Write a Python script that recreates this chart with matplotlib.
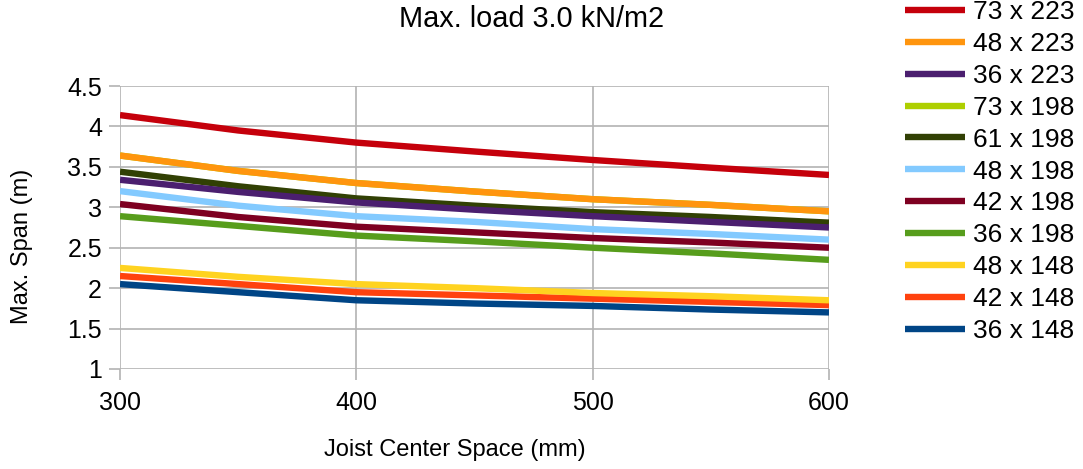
import matplotlib
matplotlib.use('Agg')
import matplotlib.pyplot as plt

plt.rcParams['font.family'] = ['Liberation Sans', 'DejaVu Sans']

# joist center spacing (mm)
spacing = [300, 350, 400, 450, 500, 550, 600]

# max span (m) per joist size
series_names = ['36 x 148', '42 x 148', '48 x 148', '36 x 198', '42 x 198', '48 x 198',
                '61 x 198', '73 x 198', '36 x 223', '48 x 223', '73 x 223']
span_36x148 = [2.05, 1.95, 1.85, 1.81, 1.78, 1.735, 1.70]
span_42x148 = [2.15, 2.05, 1.95, 1.91, 1.87, 1.83, 1.79]
span_48x148 = [2.25, 2.14, 2.05, 2.00, 1.94, 1.90, 1.85]
span_36x198 = [2.89, 2.77, 2.65, 2.58, 2.50, 2.43, 2.35]
span_42x198 = [3.04, 2.88, 2.76, 2.69, 2.62, 2.565, 2.50]
span_48x198 = [3.20, 3.02, 2.89, 2.82, 2.73, 2.67, 2.60]
span_61x198 = [3.44, 3.26, 3.11, 3.02, 2.94, 2.88, 2.81]
span_73x198 = [3.64, 3.45, 3.30, 3.195, 3.10, 3.03, 2.95]
span_36x223 = [3.34, 3.19, 3.06, 2.97, 2.89, 2.82, 2.75]
span_48x223 = [3.64, 3.45, 3.30, 3.195, 3.10, 3.03, 2.95]
span_73x223 = [4.14, 3.95, 3.80, 3.69, 3.585, 3.49, 3.40]

all_spans = [span_36x148, span_42x148, span_48x148, span_36x198, span_42x198, span_48x198,
             span_61x198, span_73x198, span_36x223, span_48x223, span_73x223]

colors = ['#004586', '#ff420e', '#ffd320', '#579d1c', '#7e0021', '#83caff',
          '#314004', '#aecf00', '#4b1f6f', '#ff950e', '#c5000b']

W, H = 1083, 469
fig = plt.figure(figsize=(W / 100, H / 100), dpi=100)
ax = fig.add_axes([120 / W, 1 - 369 / H, 709 / W, 283 / H])

lines = []
for name, vals, c in zip(series_names, all_spans, colors):
    ln, = ax.plot(spacing, vals, color=c, lw=4.6, label=name, solid_capstyle='butt')
    lines.append(ln)

grid_c = '#b3b3b3'
ax.set_xlim(300, 600)
ax.set_ylim(1, 4.5)
ax.set_xticks([300, 400, 500, 600])
ax.set_yticks([1, 1.5, 2, 2.5, 3, 3.5, 4, 4.5])
ax.set_yticklabels(['1', '1.5', '2', '2.5', '3', '3.5', '4', '4.5'])
ax.grid(True, color=grid_c, lw=1.2)
ax.set_axisbelow(True)
for s in ax.spines.values():
    s.set_visible(False)
ax.tick_params(axis='both', colors=grid_c, labelcolor='black', labelsize=18,
               length=8, width=1.2)
ax.tick_params(axis='y', pad=5)
ax.tick_params(axis='x', pad=8)

fig.text(532 / W, 1 - 19 / H, 'Max. load 3.0 kN/m2', fontsize=20.8, ha='center', va='center')
fig.text(455 / W, 1 - 450 / H, 'Joist Center Space (mm)', fontsize=17, ha='center', va='center')
fig.text(22 / W, 1 - 246 / H, 'Max. Span (m)', fontsize=17, ha='center', va='center',
         rotation=90)

fig.legend(handles=lines[::-1], loc='upper left', bbox_to_anchor=(905 / W, 1.0),
           frameon=False, fontsize=19, handlelength=2.27, handletextpad=0.3,
           labelspacing=0.3, borderpad=0, borderaxespad=0)

fig.savefig('out.png', dpi=100)
